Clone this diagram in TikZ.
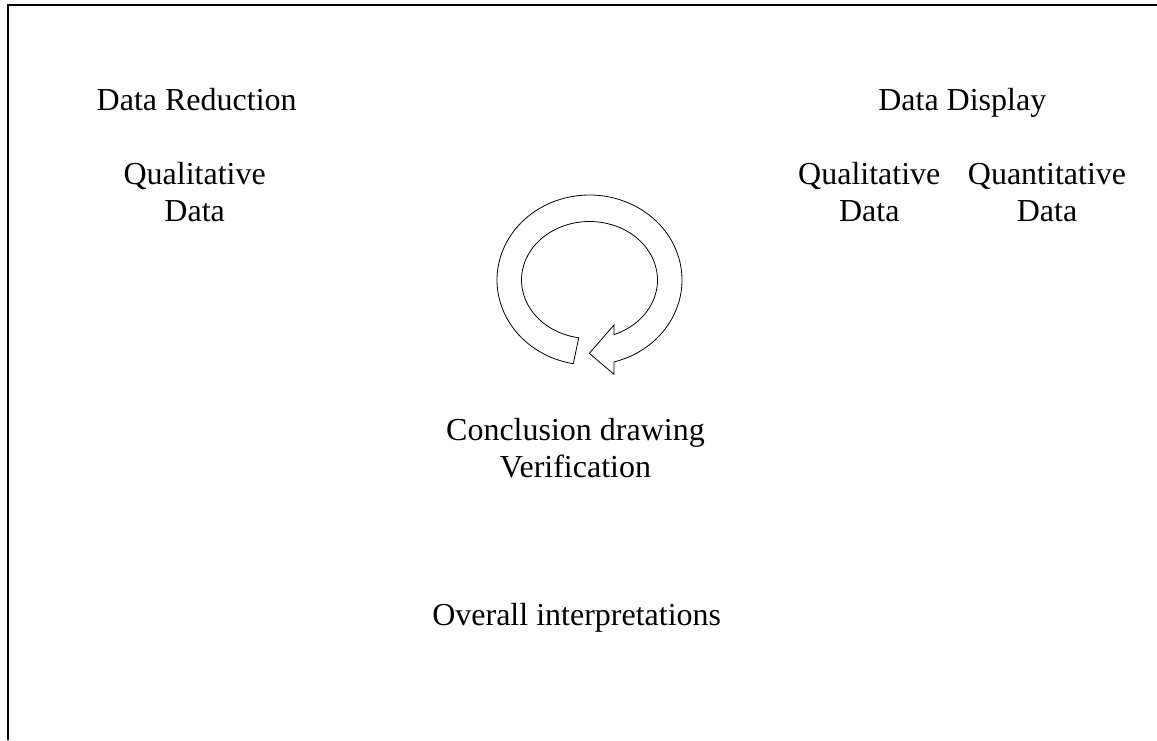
\documentclass[tikz,border=0pt]{standalone}
\usepackage{fontspec}
\setmainfont{Liberation Serif}
\usetikzlibrary{calc}
\begin{document}
\begin{tikzpicture}[x=1pt, y=-1pt,
  label/.style={font=\fontsize{32}{36.8}\selectfont, align=center, inner sep=0pt, anchor=base},
  frame/.style={line width=2.5pt, line join=miter},
  cycle arrow/.style={draw=black, line width=0.8pt, fill=white, line join=miter}]
\useasboundingbox (0,0) rectangle (1157,740);

% open frame: left and top edges
\draw[frame] (7.8,740) -- (7.8,4.8) -- (1157,4.8);

% headings and data types (base = baseline of the last line)
\node[label] (reduction) at (196.7,110.7) {Data Reduction};
\node[label] (display)   at (962.3,110.7) {Data Display};
\node[label] (qualL)     at (194.7,221)   {Qualitative\\Data};
\node[label] (qualR)     at (869.3,221)   {Qualitative\\Data};
\node[label] (quant)     at (1047,221)    {Quantitative\\Data};

% circular block arrow: outer rim, tail cut, inner rim, arrow head
\coordinate (c) at (589.5,280);
\draw[cycle arrow]
  ($(c)+(74.6:92.5 and 85)$)
    arc[start angle=74.6, end angle=-259.9, x radius=92.5, y radius=85]
  -- ($(c)+(99.1:68 and 58.5)$)
    arc[start angle=-260.9, end angle=68.9, x radius=68, y radius=58.5]
  -- (614,325) -- (589.3,353.3) -- (614,374.3) -- cycle;

% conclusions
\node[label] (conclusion) at (575.5,477.7) {Conclusion drawing\\Verification};
\node[label] (overall)    at (576.7,625)   {Overall interpretations};
\end{tikzpicture}
\end{document}
